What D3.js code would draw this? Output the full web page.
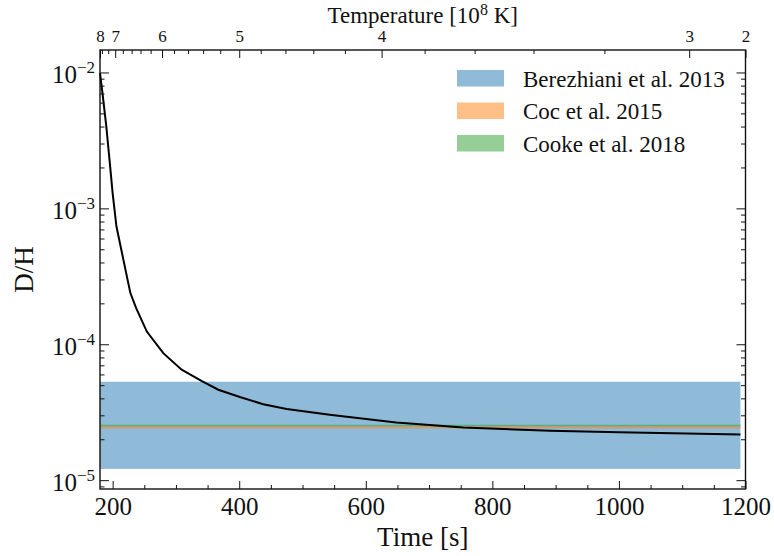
<!DOCTYPE html>
<html>
<head>
<meta charset="utf-8">
<script src="https://cdn.jsdelivr.net/npm/d3@7"></script>
<style>
  body { margin: 0; background: #fff; }
  text { font-family: "Liberation Serif", "DejaVu Serif", serif; fill: #111; }
</style>
</head>
<body>
<script>
// data
var times = [180, 184, 190, 195, 200, 206, 217, 228, 237, 254, 280, 309, 341, 367, 401, 438, 475, 543, 648, 754, 891, 1000, 1192];
var dh = [9.9e-3, 7.0e-3, 4.0e-3, 2.28e-3, 1.29e-3, 7.35e-4, 4.18e-4, 2.38e-4, 1.85e-4, 1.24e-4, 8.6e-5, 6.5e-5, 5.35e-5, 4.63e-5, 4.09e-5, 3.62e-5, 3.34e-5, 3.03e-5, 2.66e-5, 2.44e-5, 2.31e-5, 2.25e-5, 2.17e-5];

var bandNames = ["Berezhiani et al. 2013", "Coc et al. 2015", "Cooke et al. 2018"];
var bandLow = [1.21e-5, 2.40e-5, 2.497e-5];
var bandHigh = [5.3e-5, 2.50e-5, 2.557e-5];
var bandColors = ["#1f77b4", "#ff7f0e", "#2ca02c"];

// top axis: temperature [1e8 K] ticks and the times where they sit
var tempLabels = ["8", "7", "6", "5", "4", "3", "2"];
var tempTimes = [180, 204, 278, 400, 625, 1111, 1200];
var tempMinorTimes = [183, 193, 216, 230, 244, 260, 297, 319, 343, 370, 434, 473, 517, 567, 693, 772, 865, 977];

var xTicks = [200, 400, 600, 800, 1000, 1200];
var yTicks = [1e-5, 1e-4, 1e-3, 1e-2];
var yTickExp = ["−5", "−4", "−3", "−2"];

var svgWidth = 774;
var svgHeight = 556;
var margin = {top: 50, right: 28.5, bottom: 67, left: 100};
var chartWidth = svgWidth - margin.left - margin.right;
var chartHeight = svgHeight - margin.top - margin.bottom;

var svg = d3.select("body")
  .append("svg")
  .attr("width", svgWidth)
  .attr("height", svgHeight);

var chartGroup = svg.append("g")
  .attr("transform", `translate(${margin.left},${margin.top})`);

var xScale = d3.scaleLinear().domain([180, 1200]).range([0, chartWidth]);
var yScale = d3.scaleLog().domain([8.61e-6, 1.463e-2]).range([chartHeight, 0]);

// bands
var t0 = times[0], t1 = times[times.length - 1];
bandNames.forEach(function(n, i) {
  chartGroup.append("rect")
    .attr("x", xScale(t0))
    .attr("width", xScale(t1) - xScale(t0))
    .attr("y", yScale(bandHigh[i]))
    .attr("height", yScale(bandLow[i]) - yScale(bandHigh[i]))
    .attr("fill", bandColors[i])
    .attr("fill-opacity", 0.5);
});

// D/H curve
var line = d3.line()
  .x(function(d, i) { return xScale(times[i]); })
  .y(function(d) { return yScale(d); });

chartGroup.append("path")
  .datum(dh)
  .attr("d", line)
  .attr("fill", "none")
  .attr("stroke", "#000")
  .attr("stroke-width", 2);

// minor ticks for y
var yMinor = [];
[-6, -5, -4, -3, -2].forEach(function(e) {
  for (var k = 2; k <= 9; k++) {
    var v = k * Math.pow(10, e);
    if (v >= yScale.domain()[0] && v <= yScale.domain()[1]) yMinor.push(v);
  }
});
var xMinor = d3.range(200, 1201, 50).filter(function(v) { return v % 200 != 0; });

function styleAxis(g) {
  g.select(".domain").remove();
  g.selectAll("line").attr("stroke", "#111").attr("stroke-width", 1);
  g.selectAll("text").attr("font-family", null).attr("fill", "#111");
}

// bottom axis
chartGroup.append("g")
  .attr("transform", `translate(0,${chartHeight})`)
  .call(d3.axisBottom(xScale).tickValues(xTicks).tickSize(-8).tickPadding(8).tickFormat(d3.format("d")))
  .call(styleAxis)
  .selectAll("text").style("font-size", "25px");
chartGroup.append("g")
  .attr("transform", `translate(0,${chartHeight})`)
  .call(d3.axisBottom(xScale).tickValues(xMinor).tickSize(-4).tickFormat(""))
  .call(styleAxis);

// left axis
chartGroup.append("g")
  .call(d3.axisLeft(yScale).tickValues(yTicks).tickSize(-9).tickFormat(""))
  .call(styleAxis);
chartGroup.append("g")
  .call(d3.axisLeft(yScale).tickValues(yMinor).tickSize(-4.5).tickFormat(""))
  .call(styleAxis);

// right axis
chartGroup.append("g")
  .attr("transform", `translate(${chartWidth},0)`)
  .call(d3.axisRight(yScale).tickValues(yTicks).tickSize(-9).tickFormat(""))
  .call(styleAxis);
chartGroup.append("g")
  .attr("transform", `translate(${chartWidth},0)`)
  .call(d3.axisRight(yScale).tickValues(yMinor).tickSize(-4.5).tickFormat(""))
  .call(styleAxis);

// y tick labels 10^n
yTicks.forEach(function(v, i) {
  var t = chartGroup.append("text")
    .attr("x", -5)
    .attr("y", yScale(v) + 10.5)
    .attr("text-anchor", "end")
    .style("font-size", "25px");
  t.append("tspan").text("10");
  t.append("tspan").attr("dy", -10).style("font-size", "17px").text(yTickExp[i]);
});

// top axis (temperature)
chartGroup.append("g")
  .call(d3.axisTop(xScale).tickValues(tempTimes).tickSize(-8).tickPadding(8)
    .tickFormat(function(d, i) { return tempLabels[i]; }))
  .call(styleAxis)
  .selectAll("text").style("font-size", "17px");
chartGroup.append("g")
  .call(d3.axisTop(xScale).tickValues(tempMinorTimes).tickSize(-4).tickFormat(""))
  .call(styleAxis);

// frame
chartGroup.append("rect")
  .attr("width", chartWidth)
  .attr("height", chartHeight)
  .attr("fill", "none")
  .attr("stroke", "#111")
  .attr("stroke-width", 1.4);

// axis labels
svg.append("text")
  .attr("x", margin.left + chartWidth / 2)
  .attr("y", 546)
  .attr("text-anchor", "middle")
  .style("font-size", "27px")
  .text("Time [s]");

svg.append("text")
  .attr("transform", `translate(33,${margin.top + chartHeight / 2}) rotate(-90)`)
  .attr("text-anchor", "middle")
  .style("font-size", "27px")
  .text("D/H");

var topTitle = svg.append("text")
  .attr("x", margin.left + chartWidth / 2)
  .attr("y", 23)
  .attr("text-anchor", "middle")
  .style("font-size", "23px");
topTitle.append("tspan").text("Temperature [10");
topTitle.append("tspan").attr("dy", -8).style("font-size", "16px").text("8");
topTitle.append("tspan").attr("dy", 8).text(" K]");

// legend
var legend = svg.append("g").attr("transform", "translate(457,70)");
bandNames.forEach(function(n, i) {
  legend.append("rect")
    .attr("x", 0)
    .attr("y", i * 32.5)
    .attr("width", 47)
    .attr("height", 16.5)
    .attr("fill", bandColors[i])
    .attr("fill-opacity", 0.5);
  legend.append("text")
    .attr("x", 66)
    .attr("y", i * 32.5 + 16.5)
    .style("font-size", "23px")
    .text(n);
});
</script>
</body>
</html>
